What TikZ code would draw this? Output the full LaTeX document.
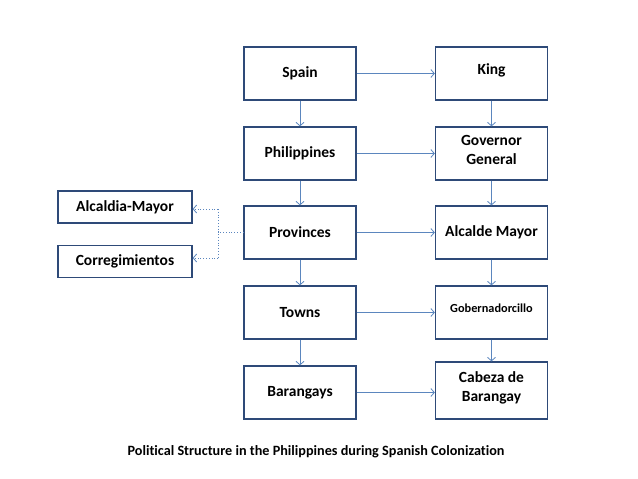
\documentclass[tikz,border=0pt]{standalone}
\usepackage{fontspec}
\setmainfont[Ligatures=NoCommon]{Carlito}
\usetikzlibrary{arrows.meta}
\definecolor{boxline}{HTML}{2E4A78}
\definecolor{arrowblue}{HTML}{5B86BE}
\tikzset{
  box/.style={draw=boxline, line width=1.3pt, fill=white, minimum width=112pt, minimum height=53pt, align=center, font=\bfseries\fontsize{15.5}{19}\selectfont, inner sep=2pt},
  sidebox/.style={draw=boxline, line width=1.3pt, fill=white, minimum width=134pt, minimum height=32pt, align=center, font=\bfseries\fontsize{15.5}{19}\selectfont},
  conn/.style={draw=arrowblue, line width=0.8pt, -{Straight Barb[length=3.5pt,width=8pt]}},
  dotconn/.style={draw=arrowblue, line width=0.8pt, dotted, -{Straight Barb[length=3.5pt,width=8pt]}},
  dotline/.style={draw=arrowblue, line width=0.8pt, dotted}
}
\begin{document}
\begin{tikzpicture}[x=1pt,y=-1pt]
\useasboundingbox (0,0) rectangle (638,479);
% left column
\node[box] (spain) at (300,73.5) {Spain};
\node[box] (phil) at (300,153.5) {Philippines};
\node[box] (prov) at (300,232.5) {Provinces};
\node[box] (towns) at (300,312.5) {Towns};
\node[box] (bar) at (300,392.5) {Barangays};
% right column
\node[box, text depth=8pt] (king) at (491.5,73.5) {King};
\node[box, text depth=8pt] (gov) at (491.5,153.5) {Governor\\General};
\node[box] (alc) at (491.5,232.5) {Alcalde Mayor};
\node[box, font=\bfseries\fontsize{12.3}{15}\selectfont, text depth=8pt] (gob) at (491.5,312.5) {Gobernadorcillo};
\node[box, minimum height=57pt, text depth=8pt] (cab) at (491.5,390.5) {Cabeza de\\Barangay};
% side boxes
\node[sidebox] (am) at (125,207) {Alcaldia-Mayor};
\node[sidebox] (cor) at (125,261.5) {Corregimientos};
% horizontal arrows
\draw[conn] (spain) -- (king);
\draw[conn] (phil) -- (gov);
\draw[conn] (prov) -- (alc);
\draw[conn] (towns) -- (gob);
\draw[conn] (bar.east) -- (bar.east -| cab.west);
% vertical arrows
\draw[conn] (spain) -- (phil);
\draw[conn] (phil) -- (prov);
\draw[conn] (prov) -- (towns);
\draw[conn] (towns) -- (bar);
\draw[conn] (king) -- (gov);
\draw[conn] (gov) -- (alc);
\draw[conn] (alc) -- (gob);
\draw[conn] (gob) -- (cab);
% dotted branch
\coordinate (j) at (218,232.5);
\coordinate (jt) at (218,209);
\coordinate (jb) at (218,258);
\draw[dotline] (prov.west) -- (j);
\draw[dotline] (jt) -- (jb);
\draw[dotconn] (jt) -- (jt -| am.east);
\draw[dotconn] (jb) -- (jb -| cor.east);
% caption
\node[font=\bfseries\fontsize{14.2}{17}\selectfont] (cap) at (316,452) {Political Structure in the Philippines during Spanish Colonization};
\end{tikzpicture}
\end{document}
